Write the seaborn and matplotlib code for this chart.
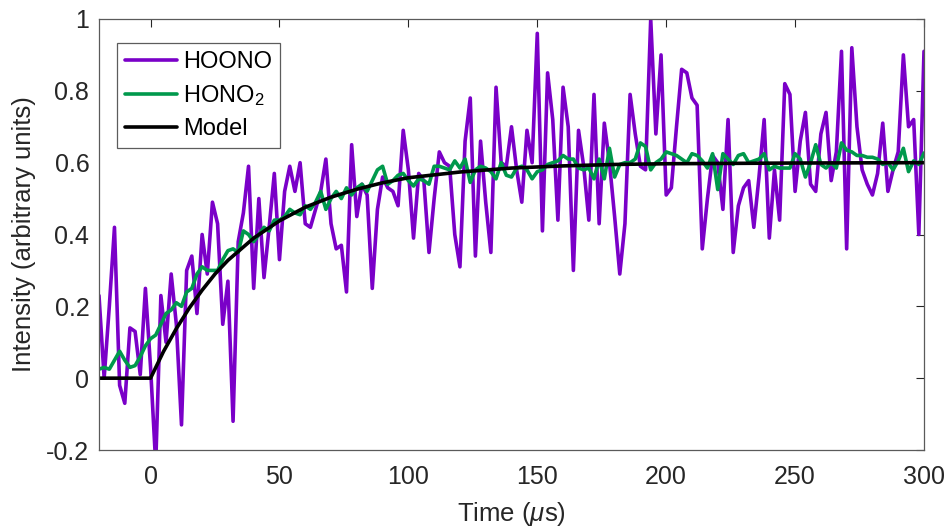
import numpy as np
import pandas as pd
import matplotlib
matplotlib.use("Agg")
import matplotlib.pyplot as plt
import seaborn as sns

# ---- data ----
time_us = list(range(-20, 301, 2))

hoono = [0.23, 0.00, 0.20, 0.42, -0.02, -0.07, 0.14, 0.13, 0.01, 0.25,
         0.03, -0.24, 0.23, 0.10, 0.29, 0.15, -0.13, 0.30, 0.34, 0.18,
         0.40, 0.29, 0.49, 0.43, 0.15, 0.27, -0.12, 0.38, 0.46, 0.59,
         0.25, 0.50, 0.28, 0.42, 0.57, 0.33, 0.52, 0.59, 0.52, 0.60,
         0.43, 0.42, 0.47, 0.52, 0.61, 0.43, 0.36, 0.37, 0.24, 0.65,
         0.45, 0.54, 0.51, 0.25, 0.47, 0.56, 0.53, 0.52, 0.48, 0.69,
         0.58, 0.39, 0.57, 0.55, 0.35, 0.50, 0.63, 0.60, 0.59, 0.40,
         0.31, 0.66, 0.78, 0.34, 0.66, 0.49, 0.35, 0.81, 0.60, 0.59,
         0.70, 0.58, 0.49, 0.69, 0.60, 0.96, 0.41, 0.85, 0.72, 0.44,
         0.81, 0.70, 0.30, 0.69, 0.59, 0.44, 0.79, 0.43, 0.71, 0.60,
         0.45, 0.29, 0.43, 0.79, 0.68, 0.59, 0.58, 1.00, 0.68, 0.90,
         0.51, 0.53, 0.70, 0.86, 0.85, 0.78, 0.76, 0.36, 0.50, 0.62,
         0.60, 0.47, 0.72, 0.35, 0.48, 0.53, 0.55, 0.42, 0.56, 0.72,
         0.39, 0.58, 0.44, 0.82, 0.79, 0.52, 0.66, 0.74, 0.54, 0.52,
         0.68, 0.74, 0.55, 0.63, 0.91, 0.36, 0.92, 0.70, 0.58, 0.54,
         0.51, 0.57, 0.71, 0.52, 0.58, 0.63, 0.90, 0.70, 0.72, 0.40,
         0.91]

hono2 = [0.025, 0.03, 0.025, 0.05, 0.075, 0.05, 0.03, 0.035, 0.06, 0.09,
         0.11, 0.12, 0.15, 0.18, 0.19, 0.21, 0.20, 0.24, 0.25, 0.29,
         0.31, 0.30, 0.30, 0.30, 0.33, 0.355, 0.36, 0.35, 0.41, 0.40,
         0.38, 0.40, 0.42, 0.41, 0.44, 0.44, 0.45, 0.47, 0.46, 0.455,
         0.48, 0.47, 0.49, 0.52, 0.47, 0.50, 0.52, 0.50, 0.53, 0.51,
         0.53, 0.54, 0.52, 0.55, 0.58, 0.59, 0.54, 0.55, 0.565, 0.57,
         0.55, 0.535, 0.555, 0.55, 0.54, 0.59, 0.59, 0.585, 0.58, 0.605,
         0.585, 0.61, 0.545, 0.58, 0.59, 0.585, 0.575, 0.555, 0.60, 0.565,
         0.56, 0.585, 0.59, 0.58, 0.555, 0.575, 0.58, 0.595, 0.60, 0.605,
         0.62, 0.61, 0.61, 0.585, 0.58, 0.585, 0.555, 0.61, 0.555, 0.64,
         0.56, 0.595, 0.60, 0.60, 0.61, 0.655, 0.645, 0.58, 0.60, 0.61,
         0.63, 0.625, 0.62, 0.61, 0.60, 0.625, 0.62, 0.605, 0.585, 0.625,
         0.525, 0.625, 0.61, 0.595, 0.62, 0.625, 0.60, 0.605, 0.61, 0.625,
         0.58, 0.59, 0.585, 0.585, 0.585, 0.625, 0.61, 0.56, 0.60, 0.65,
         0.595, 0.585, 0.60, 0.585, 0.655, 0.635, 0.63, 0.62, 0.62, 0.615,
         0.615, 0.61, 0.595, 0.60, 0.58, 0.605, 0.64, 0.575, 0.605, 0.595,
         0.627]

model_t = [-20, 0, 5, 10, 15, 20, 25, 30, 40, 50, 60, 70, 80, 90, 100,
           120, 140, 160, 180, 200, 250, 300]
model_y = [0.0, 0.0, 0.074, 0.138, 0.195, 0.245, 0.29, 0.328, 0.39, 0.438,
           0.476, 0.504, 0.526, 0.544, 0.558, 0.574, 0.585, 0.591, 0.595,
           0.597, 0.599, 0.600]

x_ticks = [0, 50, 100, 150, 200, 250, 300]
y_ticks = [-0.2, 0, 0.2, 0.4, 0.6, 0.8, 1]
y_tick_labels = ["-0.2", "0", "0.2", "0.4", "0.6", "0.8", "1"]

assert len(hoono) == len(time_us) and len(hono2) == len(time_us)

# ---- style ----
sns.set_style("white")
plt.rcParams["font.family"] = ["Liberation Sans", "DejaVu Sans"]
plt.rcParams["mathtext.fontset"] = "custom"
plt.rcParams["mathtext.rm"] = "Liberation Sans"
plt.rcParams["mathtext.it"] = "Liberation Sans:italic"
plt.rcParams["axes.unicode_minus"] = False

txt = "#262626"
purple = "#7A00C8"
green = "#00994C"

fig = plt.figure(figsize=(9.48, 5.31), dpi=100)
ax = fig.add_axes([0.10443, 0.15254, 0.87025, 0.81168])

df_a = pd.DataFrame({"t": time_us, "v": hoono})
df_b = pd.DataFrame({"t": time_us, "v": hono2})
df_m = pd.DataFrame({"t": model_t, "v": model_y})

lw = 2.6
sns.lineplot(data=df_a, x="t", y="v", ax=ax, color=purple, lw=lw,
             label="HOONO", sort=False, estimator=None)
sns.lineplot(data=df_b, x="t", y="v", ax=ax, color=green, lw=lw,
             label="HONO$_2$", sort=False, estimator=None)
sns.lineplot(data=df_m, x="t", y="v", ax=ax, color="black", lw=lw,
             label="Model", sort=False, estimator=None)

ax.set_xlim(-20, 300)
ax.set_ylim(-0.2, 1)
ax.set_xticks(x_ticks)
ax.set_xticklabels([str(v) for v in x_ticks])
ax.set_yticks(y_ticks)
ax.set_yticklabels(y_tick_labels)

ax.tick_params(direction="in", length=6, width=0.8, colors=txt,
               labelsize=18, top=True, right=True)
ax.tick_params(axis="x", pad=11)
ax.tick_params(axis="y", pad=7)
for s in ax.spines.values():
    s.set_color("#5a5a5a")
    s.set_linewidth(0.9)

ax.set_xlabel("Time ($\\mu$s)", fontsize=18.5, color=txt, labelpad=8)
ax.set_ylabel("Intensity (arbitrary units)", fontsize=18.5, color=txt,
              labelpad=7)

leg = ax.legend(loc="upper left", bbox_to_anchor=(0.0218, 0.944),
                borderaxespad=0, fontsize=17, frameon=True, fancybox=False,
                edgecolor="#333333", handlelength=2.2, handletextpad=0.25,
                labelspacing=0.42, borderpad=0.35)
leg.get_frame().set_linewidth(0.9)
for t in leg.get_texts():
    t.set_color("black")

fig.savefig("out.png", dpi=100, facecolor="white")
